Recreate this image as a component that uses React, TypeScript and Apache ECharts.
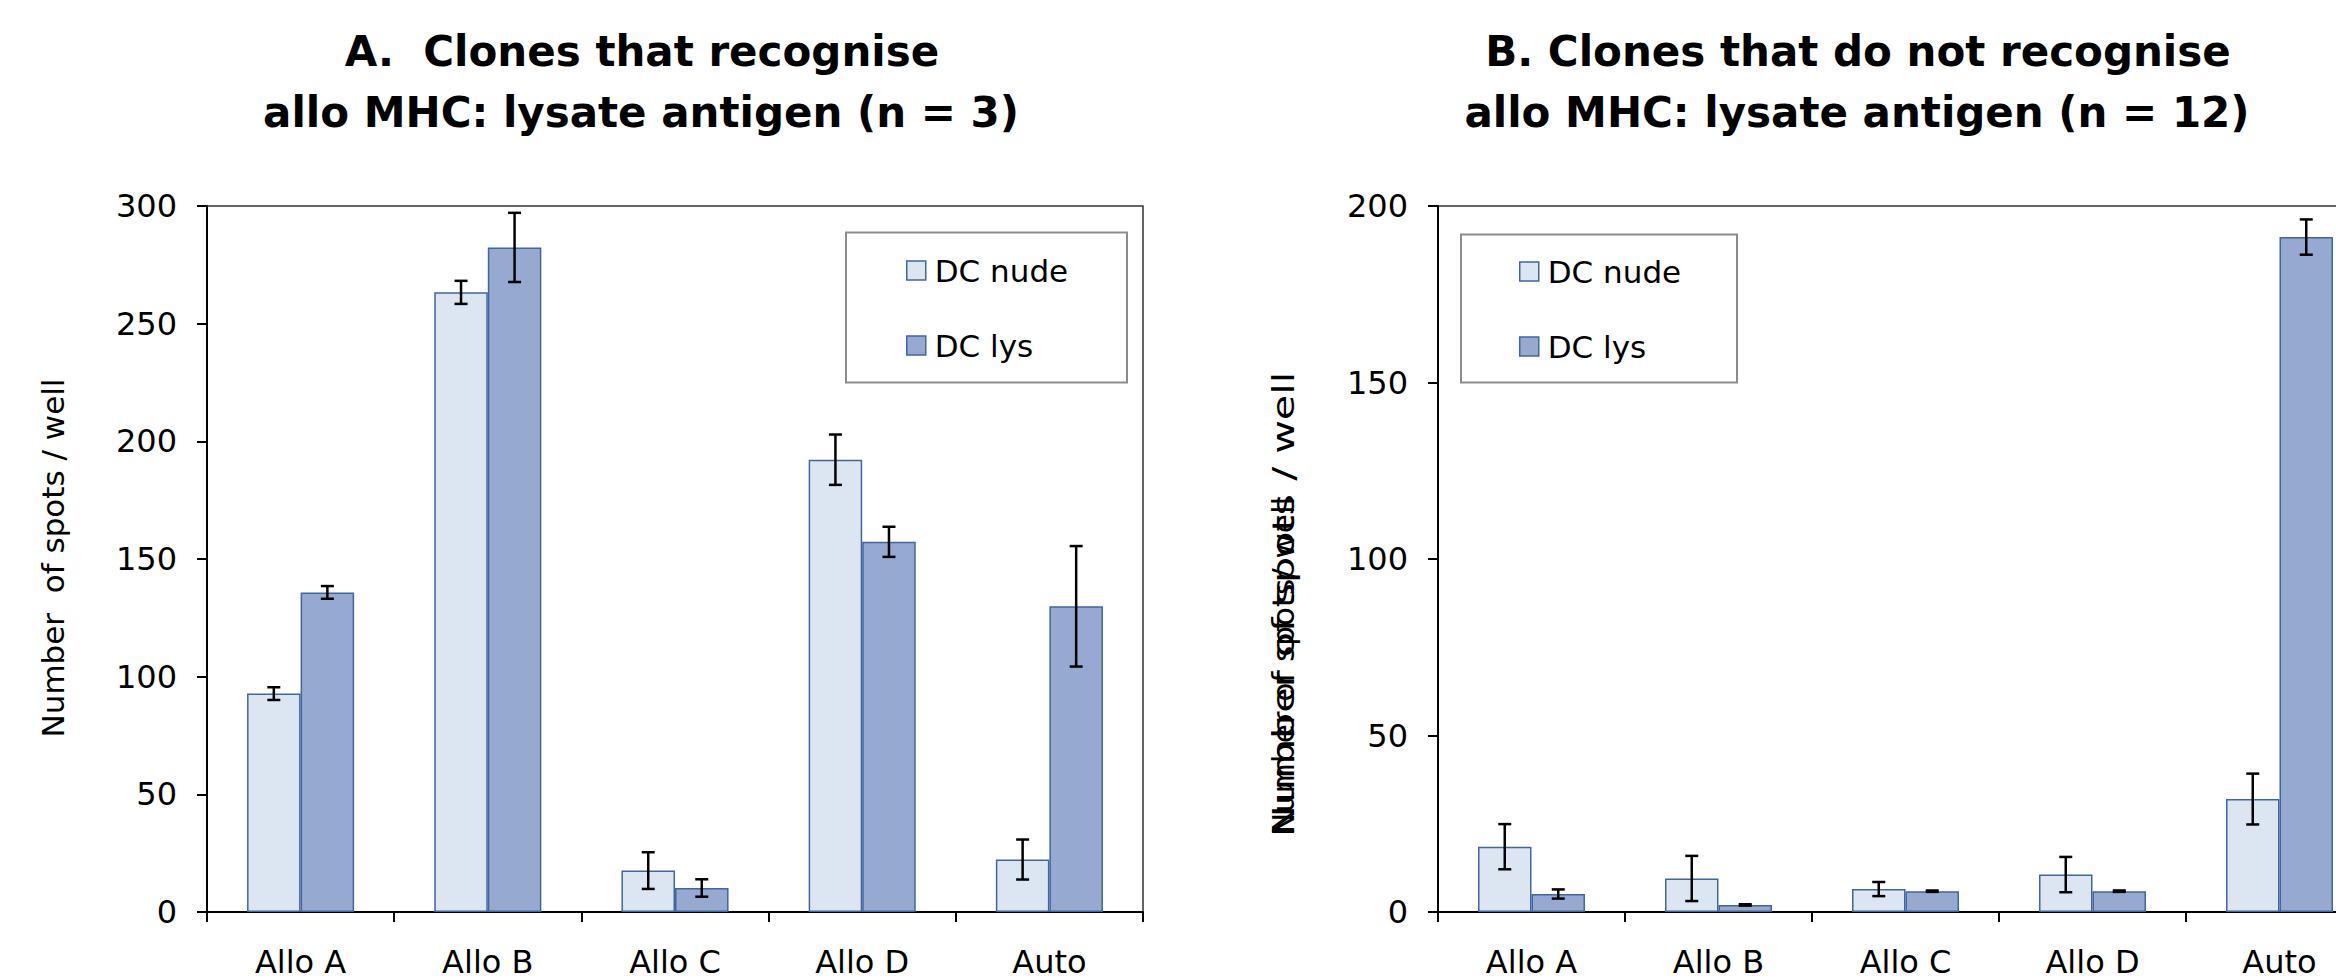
import React, { useEffect, useRef } from "react";
import * as echarts from "echarts";

const categories = ["Allo A", "Allo B", "Allo C", "Allo D", "Auto"];
const seriesNames = ["DC nude", "DC lys"];

const nudeA = [92.8, 263.3, 17.6, 192.2, 22.3];
const nudeAErr = [2.7, 4.9, 7.8, 10.7, 8.5];
const lysA = [135.8, 282.4, 10.2, 157.3, 129.9];
const lysAErr = [2.7, 14.7, 3.7, 6.4, 25.6];

const nudeB = [18.5, 9.5, 6.5, 10.6, 32.0];
const nudeBErr = [6.4, 6.4, 2.0, 5.0, 7.2];
const lysB = [5.1, 2.0, 5.9, 5.9, 191.2];
const lysBErr = [1.3, 0.2, 0.2, 0.2, 5.0];

const yTicksA = { min: 0, max: 300, interval: 50 };
const yTicksB = { min: 0, max: 200, interval: 50 };

const titleA = ["A.  Clones that recognise", "allo MHC: lysate antigen (n = 3)"];
const titleB = ["B. Clones that do not recognise", "allo MHC: lysate antigen (n = 12)"];
const yTitleA = "Number  of spots / well";
const yTitleB1 = "Number of spots / well";
const yTitleB2 = "Number of spots/ well";

const FONT = "'DejaVu Sans', Verdana, sans-serif";
const NUDE_COLOR = "#DCE6F2";
const LYS_COLOR = "#95A9D1";
const BORDER = "#40669E";
const BAR_FRAC = 0.286;

function errData(vals: number[], errs: number[], side: number) {
  return vals.map((v, i) => [i, v, errs[i], side]);
}

function errorSeries(data: number[][], gi: number) {
  return {
    type: "custom",
    xAxisIndex: gi,
    yAxisIndex: gi,
    z: 5,
    silent: true,
    data,
    renderItem: (params: any, api: any) => {
      const cat = api.value(0);
      const v = api.value(1);
      const e = api.value(2);
      const side = api.value(3);
      const top = api.coord([cat, v + e]);
      const bot = api.coord([cat, v - e]);
      const bw = api.size([1, 0])[0] * BAR_FRAC;
      const x = top[0] + (side * bw) / 2;
      const c = 6.5;
      const st = { stroke: "#000", lineWidth: 2.5 };
      return {
        type: "group",
        children: [
          { type: "line", shape: { x1: x, y1: top[1], x2: x, y2: bot[1] }, style: st },
          { type: "line", shape: { x1: x - c, y1: top[1], x2: x + c, y2: top[1] }, style: st },
          { type: "line", shape: { x1: x - c, y1: bot[1], x2: x + c, y2: bot[1] }, style: st },
        ],
      };
    },
  };
}

function barSeries(name: string, data: number[], color: string, gi: number) {
  return {
    type: "bar",
    name,
    xAxisIndex: gi,
    yAxisIndex: gi,
    data,
    barWidth: "28.6%",
    barGap: "0%",
    itemStyle: { color, borderColor: BORDER, borderWidth: 1.5 },
  };
}

function xAxisOf(gi: number) {
  return {
    type: "category",
    gridIndex: gi,
    data: categories,
    axisLine: { lineStyle: { color: "#000", width: 2 } },
    axisTick: { show: true, length: 10, lineStyle: { color: "#000", width: 2 } },
    axisLabel: { color: "#000", fontSize: 32, fontFamily: FONT, margin: 34 },
  };
}

function yAxisOf(gi: number, t: { min: number; max: number; interval: number }) {
  return {
    type: "value",
    gridIndex: gi,
    min: t.min,
    max: t.max,
    interval: t.interval,
    splitLine: { show: false },
    axisLine: { show: true, lineStyle: { color: "#000", width: 2 } },
    axisTick: { show: true, length: 10, lineStyle: { color: "#000", width: 2 } },
    axisLabel: { color: "#000", fontSize: 32, fontFamily: FONT, margin: 30 },
  };
}

function legendOf(left: number, top: number) {
  return {
    left,
    top,
    orient: "vertical",
    icon: "rect",
    itemWidth: 19,
    itemHeight: 19,
    itemGap: 44,
    padding: 0,
    textStyle: { color: "#000", fontSize: 31, fontFamily: FONT, lineHeight: 31, padding: [0, 0, 0, 4] },
    data: [
      { name: seriesNames[0], itemStyle: { color: NUDE_COLOR, borderColor: BORDER, borderWidth: 1.5 } },
      { name: seriesNames[1], itemStyle: { color: LYS_COLOR, borderColor: BORDER, borderWidth: 1.5 } },
    ],
  };
}

function titleText(text: string, x: number, y: number) {
  return {
    type: "text",
    x,
    y,
    style: {
      text,
      font: `bold 42px ${FONT}`,
      fill: "#000",
      textAlign: "center",
      textVerticalAlign: "middle",
    },
  };
}

export default function App() {
  const ref = useRef<HTMLDivElement>(null);

  useEffect(() => {
    document.body.style.margin = "0";
    if (!ref.current) return;
    const chart = echarts.init(ref.current, null, { renderer: "svg" });
    const option: any = {
      animation: false,
      backgroundColor: "#fff",
      grid: [
        { left: 207, top: 206, width: 936, height: 706, show: true, borderColor: "#333", borderWidth: 1.5, containLabel: false },
        { left: 1438, top: 206, width: 935, height: 706, show: true, borderColor: "#333", borderWidth: 1.5, containLabel: false },
      ],
      xAxis: [xAxisOf(0), xAxisOf(1)],
      yAxis: [yAxisOf(0, yTicksA), yAxisOf(1, yTicksB)],
      legend: [legendOf(906, 255), legendOf(1519, 256)],
      series: [
        barSeries(seriesNames[0], nudeA, NUDE_COLOR, 0),
        barSeries(seriesNames[1], lysA, LYS_COLOR, 0),
        barSeries(seriesNames[0], nudeB, NUDE_COLOR, 1),
        barSeries(seriesNames[1], lysB, LYS_COLOR, 1),
        errorSeries(errData(nudeA, nudeAErr, -1), 0),
        errorSeries(errData(lysA, lysAErr, 1), 0),
        errorSeries(errData(nudeB, nudeBErr, -1), 1),
        errorSeries(errData(lysB, lysBErr, 1), 1),
      ],
      graphic: [
        titleText(titleA[0], 642, 51),
        titleText(titleA[1], 641, 112),
        titleText(titleB[0], 1858, 51),
        titleText(titleB[1], 1857, 112),
        {
          type: "rect",
          shape: { x: 846, y: 232.5, width: 281, height: 150 },
          style: { fill: "none", stroke: "#8C8C8C", lineWidth: 2 },
        },
        {
          type: "rect",
          shape: { x: 1461, y: 234.5, width: 276, height: 148 },
          style: { fill: "none", stroke: "#8C8C8C", lineWidth: 2 },
        },
        {
          type: "text",
          x: 53,
          y: 558,
          rotation: Math.PI / 2,
          style: { text: yTitleA, font: `31px ${FONT}`, fill: "#000", textAlign: "center", textVerticalAlign: "middle" },
        },
        {
          type: "text",
          x: 1283,
          y: 836,
          rotation: Math.PI / 2,
          scaleX: 1.33,
          style: { text: yTitleB1, font: `31px ${FONT}`, fill: "#000", textAlign: "left", textVerticalAlign: "middle" },
        },
        {
          type: "text",
          x: 1283,
          y: 836,
          rotation: Math.PI / 2,
          style: { text: yTitleB2, font: `31px ${FONT}`, fill: "#000", textAlign: "left", textVerticalAlign: "middle" },
        },
      ],
    };
    chart.setOption(option);
    return () => chart.dispose();
  }, []);

  return (
    <div style={{ width: 2336, height: 980, overflow: "hidden", position: "relative" }}>
      <div ref={ref} style={{ width: 2420, height: 980 }} />
    </div>
  );
}
